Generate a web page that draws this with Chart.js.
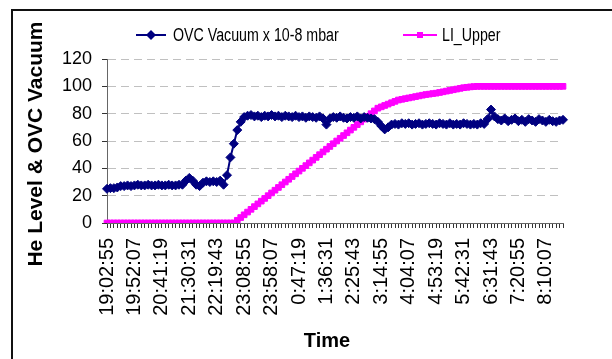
<!DOCTYPE html>
<html>
<head>
<meta charset="utf-8">
<script src="https://cdn.jsdelivr.net/npm/chart.js@4/dist/chart.umd.min.js"></script>
<style>
  html, body { margin: 0; padding: 0; background: #fff; overflow: hidden; }
  #wrap { position: relative; width: 612px; height: 359px; }
  #frame { position: absolute; left: 11px; top: 9px; width: 700px; height: 400px;
           border-left: 2px solid #111; border-top: 2px solid #111; }
  canvas { position: absolute; left: 0; top: 0; }
</style>
</head>
<body>
<div id="wrap">
  <div id="frame"></div>
  <canvas id="c" width="612" height="359"></canvas>
</div>
<script>
// Sample times (one reading every 6 min 9 s, overnight run)
const times = [
  "19:02:55","19:09:04","19:15:13","19:21:22","19:27:31","19:33:40","19:39:49","19:45:58",
  "19:52:07","19:58:16","20:04:25","20:10:34","20:16:43","20:22:52","20:29:01","20:35:10",
  "20:41:19","20:47:28","20:53:37","20:59:46","21:05:55","21:12:04","21:18:13","21:24:22",
  "21:30:31","21:36:40","21:42:49","21:48:58","21:55:07","22:01:16","22:07:25","22:13:34",
  "22:19:43","22:25:52","22:32:01","22:38:10","22:44:19","22:50:28","22:56:37","23:02:46",
  "23:08:55","23:15:04","23:21:13","23:27:22","23:33:31","23:39:40","23:45:49","23:51:58",
  "23:58:07","0:04:16","0:10:25","0:16:34","0:22:43","0:28:52","0:35:01","0:41:10",
  "0:47:19","0:53:28","0:59:37","1:05:46","1:11:55","1:18:04","1:24:13","1:30:22",
  "1:36:31","1:42:40","1:48:49","1:54:58","2:01:07","2:07:16","2:13:25","2:19:34",
  "2:25:43","2:31:52","2:38:01","2:44:10","2:50:19","2:56:28","3:02:37","3:08:46",
  "3:14:55","3:21:04","3:27:13","3:33:22","3:39:31","3:45:40","3:51:49","3:57:58",
  "4:04:07","4:10:16","4:16:25","4:22:34","4:28:43","4:34:52","4:41:01","4:47:10",
  "4:53:19","4:59:28","5:05:37","5:11:46","5:17:55","5:24:04","5:30:13","5:36:22",
  "5:42:31","5:48:40","5:54:49","6:00:58","6:07:07","6:13:16","6:19:25","6:25:34",
  "6:31:43","6:37:52","6:44:01","6:50:10","6:56:19","7:02:28","7:08:37","7:14:46",
  "7:20:55","7:27:04","7:33:13","7:39:22","7:45:31","7:51:40","7:57:49","8:03:58",
  "8:10:07","8:16:16","8:22:25","8:28:34","8:34:43","8:40:52"
];

// Times printed under the axis
const tickLabels = [
  "19:02:55","19:52:07","20:41:19","21:30:31","22:19:43","23:08:55","23:58:07","0:47:19",
  "1:36:31","2:25:43","3:14:55","4:04:07","4:53:19","5:42:31","6:31:43","7:20:55","8:10:07"
];

// OVC vacuum, units of 10^-8 mbar
const ovcVacuum = [
  25, 25.5, 25.5, 26, 27, 27, 27.5, 27,
  27.5, 28, 27.5, 27.5, 28, 27.5, 27.5, 28,
  27.5, 27.5, 28, 27.5, 27.5, 28, 28, 31,
  33, 31, 28, 27, 29.5, 30.5, 30, 30.5,
  30, 31, 28, 35, 48, 58, 68, 74,
  77.5, 78.5, 79, 78, 78.5, 77.5, 78.5, 78,
  79, 78, 78.5, 77.5, 78.5, 78, 77.5, 78.5,
  77.5, 78, 77, 78, 77.5, 77, 78, 76.5,
  72, 76.5, 77.5, 77, 78, 77, 76.5, 77.5,
  77, 78, 76.5, 77.5, 77, 76.5, 76, 74,
  71, 68.5, 70, 72, 72.5, 72, 73, 72.5,
  73, 72, 72.5, 73, 72, 72.5, 73, 72.5,
  72, 73, 72.5, 72, 73, 72, 72.5, 72,
  73, 72.5, 72, 72.5, 72, 73, 72.5, 76,
  83, 78, 76, 75, 76.5, 74.5, 75.5, 76.5,
  74.5, 75.5, 74, 76, 75, 74, 76, 75,
  74, 75.5, 74.5, 74, 75, 75.5
];

// Upper helium level indicator, %
const liUpper = [
  0, 0, 0, 0, 0, 0, 0, 0,
  0, 0, 0, 0, 0, 0, 0, 0,
  0, 0, 0, 0, 0, 0, 0, 0,
  0, 0, 0, 0, 0, 0, 0, 0,
  0, 0, 0, 0, 0, 0, 2, 4,
  6, 8, 10, 12, 14, 16, 18, 20,
  22, 24, 26, 28, 30, 32, 34, 36,
  38, 40, 42, 44, 46, 48, 50, 52,
  54, 56, 58, 60, 62, 64, 66, 68,
  70, 72, 74, 76, 78, 80, 82, 84,
  85, 86, 87, 88, 89, 90, 90.5, 91,
  91.5, 92, 92.5, 93, 93.5, 94, 94.3, 94.7,
  95, 95.5, 96, 96.5, 97, 97.5, 98, 98.5,
  99, 99.3, 99.6, 99.8, 100, 100, 100, 100,
  100, 100, 100, 100, 100, 100, 100, 100,
  100, 100, 100, 100, 100, 100, 100, 100,
  100, 100, 100, 100, 100, 100
];

const seriesNames = ["OVC Vacuum x 10-8 mbar", "LI_Upper"];
const axisTitles = { x: "Time", y: "He Level & OVC Vacuum" };
const navy = "#000080";
const magenta = "#ff00ff";

// Legend row and the axis titles, drawn on the canvas
const decorations = {
  id: "decorations",
  afterDraw(chart) {
    const ctx = chart.ctx;
    const ds = chart.data.datasets;
    const rowY = 35;
    const items = [
      { x0: 136, x1: 166, tx: 173, d: ds[0] },
      { x0: 403, x1: 437, tx: 442, d: ds[1] }
    ];
    ctx.save();
    items.forEach(it => {
      ctx.strokeStyle = it.d.borderColor;
      ctx.lineWidth = 2;
      ctx.beginPath();
      ctx.moveTo(it.x0, rowY);
      ctx.lineTo(it.x1, rowY);
      ctx.stroke();
      const cx = (it.x0 + it.x1) / 2;
      ctx.fillStyle = it.d.pointBackgroundColor;
      ctx.beginPath();
      if (it.d.pointStyle === "rectRot") {
        ctx.moveTo(cx - 5, rowY); ctx.lineTo(cx, rowY - 5);
        ctx.lineTo(cx + 5, rowY); ctx.lineTo(cx, rowY + 5);
      } else {
        ctx.rect(cx - 3, rowY - 3, 6, 6);
      }
      ctx.closePath();
      ctx.fill();
      // narrow legend face
      ctx.save();
      ctx.translate(it.tx, rowY);
      ctx.scale(0.79, 1);
      ctx.fillStyle = "#000";
      ctx.font = "18px 'Liberation Sans', Arial, sans-serif";
      ctx.textAlign = "left";
      ctx.textBaseline = "middle";
      ctx.fillText(it.d.label, 0, 1);
      ctx.restore();
    });
    ctx.fillStyle = "#000";
    ctx.textAlign = "center";
    ctx.textBaseline = "middle";
    ctx.font = "bold 20px 'Liberation Sans', Arial, sans-serif";
    // x-axis title
    ctx.fillText(axisTitles.x, 327, 341);
    // y-axis title
    ctx.translate(36, 144);
    ctx.rotate(-Math.PI / 2);
    ctx.font = "bold 21px 'Liberation Sans', Arial, sans-serif";
    ctx.fillText(axisTitles.y, 0, 0);
    ctx.restore();
  }
};

new Chart(document.getElementById("c"), {
  type: "line",
  data: {
    labels: times,
    datasets: [
      {
        label: seriesNames[0],
        data: ovcVacuum,
        borderColor: navy,
        backgroundColor: navy,
        pointBackgroundColor: navy,
        pointBorderColor: navy,
        borderWidth: 2,
        pointStyle: "rectRot",
        pointRadius: 4.5,
        pointBorderWidth: 1,
        tension: 0
      },
      {
        label: seriesNames[1],
        data: liUpper,
        borderColor: magenta,
        backgroundColor: magenta,
        pointBackgroundColor: magenta,
        pointBorderColor: magenta,
        borderWidth: 2,
        pointStyle: "rect",
        pointRadius: 4,
        pointBorderWidth: 1,
        tension: 0
      }
    ]
  },
  options: {
    responsive: false,
    animation: false,
    devicePixelRatio: 1,
    layout: { padding: { left: 0, right: 49, top: 59, bottom: 0 } },
    plugins: { legend: { display: false }, tooltip: { enabled: false } },
    scales: {
      x: {
        offset: false,
        afterFit(scale) { scale.height = 136; },
        grid: { drawOnChartArea: false, drawTicks: true, tickLength: 5, tickColor: "#333", lineWidth: 1 },
        border: { display: true, color: "#666", width: 1 },
        ticks: {
          autoSkip: false,
          minRotation: 90,
          maxRotation: 90,
          padding: 10,
          color: "#000",
          font: { family: "'Liberation Sans', Arial, sans-serif", size: 20 },
          callback(value) {
            const t = this.getLabelForValue(value);
            return tickLabels.includes(t) ? t : "";
          }
        }
      },
      y: {
        min: 0,
        max: 120,
        afterFit(scale) { scale.width = 107; },
        grid: {
          color: c => (c.tick && c.tick.value === 0 ? "rgba(0,0,0,0)" : "#c0c0c0"),
          lineWidth: 1,
          drawTicks: true,
          tickLength: 5,
          tickColor: "#333"
        },
        border: { display: true, color: "#666", width: 1, dash: [8, 5] },
        ticks: {
          stepSize: 20,
          padding: 10,
          color: "#000",
          font: { family: "'Liberation Sans', Arial, sans-serif", size: 18 }
        }
      }
    }
  },
  plugins: [decorations]
});
</script>
</body>
</html>
